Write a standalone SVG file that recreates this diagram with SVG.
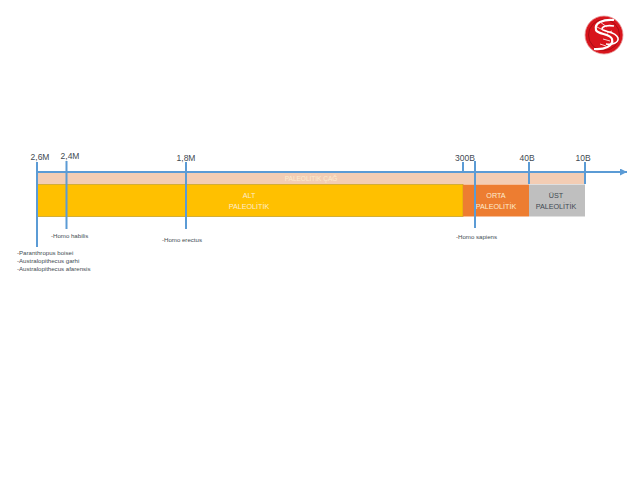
<svg xmlns="http://www.w3.org/2000/svg" width="638" height="479" viewBox="0 0 638 479">
<defs>
<marker id="arr" markerWidth="9" markerHeight="8" refX="7" refY="3.500" orient="auto" markerUnits="userSpaceOnUse"><path d="M0 0L7 3.500L0 7Z" fill="#5b9bd5"/></marker>
</defs>
<style>
text{font-family:"Liberation Sans",Arial,sans-serif}
.t{font-size:8.5px;fill:#3f4a52;text-anchor:middle}
.s{font-size:6.1px;fill:#444c52}
.w{font-size:7.2px;fill:#fdeccf;text-anchor:middle}
.l{stroke:#5b9bd5;stroke-width:2;fill:none}
</style>
<rect width="638" height="479" fill="#fff"/>
<g id="logo">
<circle cx="604" cy="35" r="19" fill="#d8141c" stroke="#e9a0a0" stroke-width="0.8"/>
<circle cx="604" cy="35" r="15.500" fill="none" stroke="#a80d15" stroke-width="1"/>
<path d="M614 20C603 19 594 23 596 30C598 35 610 33 612 39C614 46 604 50 594 49" fill="none" stroke="#fff" stroke-width="2.200"/>
<path d="M614 26C608 25 602 26 602 29C603 32 616 31 618 38C619 43 612 45 606 44" fill="none" stroke="#fff" stroke-width="1.600"/>
<path d="M600 22L607 27M597 27L603 30M607 33L612 31M603 39L610 41M600 44L606 46" stroke="#fbdcdc" stroke-width="0.900"/>
</g>
<g id="bar-paleolitik-cag"><rect x="37" y="173" width="548" height="11" fill="#f3cdb4"/><text x="311" y="181" class="w" style="font-size:6.5px">PALEOLİTİK ÇAĞ</text></g>
<g id="bar-alt"><rect x="37" y="184.500" width="426" height="32" fill="#ffc000" stroke="#c9a227" stroke-width="0.8"/><text x="249" y="198" class="w">ALT</text><text x="249" y="209" class="w">PALEOLİTİK</text></g>
<g id="bar-orta"><rect x="463" y="184.500" width="66" height="32" fill="#ed7d31"/><text x="496" y="198" class="w">ORTA</text><text x="496" y="209" class="w">PALEOLİTİK</text></g>
<g id="bar-ust"><rect x="529" y="184.500" width="56" height="32" fill="#bfbfbf"/><text x="556" y="198" class="t" style="font-size:7.2px">ÜST</text><text x="556" y="209" class="t" style="font-size:7.2px">PALEOLİTİK</text></g>
<g id="connectors">
<path class="l" d="M37 172H627" marker-end="url(#arr)"/>
<path class="l" d="M37 162V247"/>
<path class="l" d="M66.500 161V229"/>
<path class="l" d="M186 162V229"/>
<path class="l" d="M463 162V172"/>
<path class="l" d="M475 161V228"/>
<path class="l" d="M529 162V184"/>
<path class="l" d="M585 162V184"/>
</g>
<g id="labels">
<text x="40" y="160" class="t">2,6M</text>
<text x="70" y="159" class="t">2,4M</text>
<text x="186" y="161" class="t">1,8M</text>
<text x="465" y="161" class="t">300B</text>
<text x="527" y="161" class="t">40B</text>
<text x="583" y="161" class="t">10B</text>
<text x="51" y="238" class="s">-Homo habilis</text>
<text x="162" y="242" class="s">-Homo erectus</text>
<text x="456" y="239" class="s">-Homo sapiens</text>
<text x="17" y="254.500" class="s">-Paranthropus boisei</text>
<text x="17" y="262.500" class="s">-Australopithecus garhi</text>
<text x="17" y="270.500" class="s">-Australopithecus afarensis</text>
</g>
</svg>
